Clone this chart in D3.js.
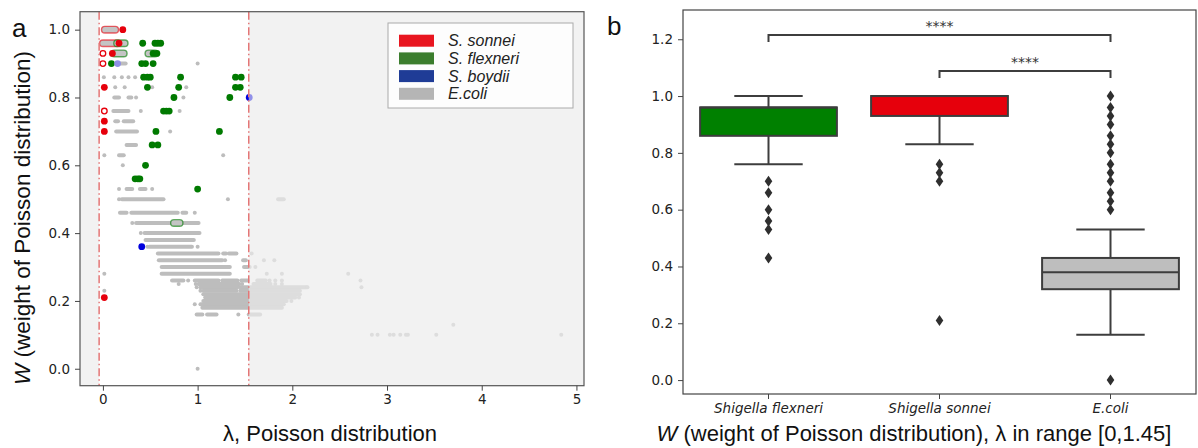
<!DOCTYPE html>
<html>
<head>
<meta charset="utf-8">
<script src="https://cdn.jsdelivr.net/npm/d3@7"></script>
<style>
  body { margin: 0; background: #fff; }
  svg { display: block; }
  .tick text { font-family: "DejaVu Sans", sans-serif; font-size: 13.5px; fill: #222; }
</style>
</head>
<body>
<svg id="chart" width="1198" height="448"></svg>
<script>
// ---------- panel a : lambda vs W scatter ----------
// E.coli dense rows: [W, lambda start, lambda end]
var ecoliRuns = [
  [0.90, 0.16, 0.24],
  [0.80, 0.12, 0.17], [0.80, 0.27, 0.30],
  [0.76, 0.11, 0.27],
  [0.73, 0.13, 0.16], [0.73, 0.22, 0.32],
  [0.70, 0.14, 0.36],
  [0.66, 0.25, 0.35],
  [0.63, 0.17, 0.22],
  [0.53, 0.25, 0.31], [0.53, 0.39, 0.45],
  [0.50, 0.20, 0.64], [0.50, 1.85, 1.91],
  [0.46, 0.18, 0.25], [0.46, 0.30, 0.79], [0.46, 0.84, 0.88],
  [0.43, 0.35, 1.01],
  [0.40, 0.44, 1.02],
  [0.38, 0.45, 0.96],
  [0.36, 0.49, 0.94],
  [0.34, 0.58, 1.22], [0.34, 1.27, 1.30], [0.34, 1.33, 1.41],
  [0.32, 0.59, 1.26], [0.32, 1.48, 1.51],
  [0.30, 0.62, 1.34], [0.30, 1.49, 1.55],
  [0.28, 0.62, 1.34],
  [0.26, 0.73, 0.85], [0.26, 0.97, 1.22], [0.26, 1.26, 1.42], [0.26, 1.46, 1.53], [0.26, 1.63, 1.72],
  [0.25, 1.01, 1.44], [0.25, 1.59, 1.77],
  [0.24, 1.03, 1.42], [0.24, 1.45, 2.15],
  [0.23, 1.06, 1.41], [0.23, 1.45, 2.08],
  [0.22, 1.06, 2.08],
  [0.21, 1.08, 2.03],
  [0.20, 1.06, 1.94],
  [0.19, 1.03, 1.91],
  [0.18, 1.05, 1.89],
  [0.16, 0.99, 1.05], [0.16, 1.10, 1.20], [0.16, 1.54, 1.66]
];
// E.coli single points: [lambda, W]
var ecoliDots = [
  [1.00, 0.90],
  [0.01, 0.86], [0.12, 0.86], [0.20, 0.86], [0.27, 0.86], [0.34, 0.86],
  [0.13, 0.83], [0.23, 0.83], [0.52, 0.83], [0.88, 0.83],
  [0.35, 0.80], [0.85, 0.80],
  [0.40, 0.76], [0.81, 0.76],
  [0.71, 0.70],
  [0.015, 0.63], [1.27, 0.63],
  [0.21, 0.60],
  [0.17, 0.53], [0.52, 0.53],
  [0.17, 0.50], [1.32, 0.50],
  [0.97, 0.46],
  [0.31, 0.43],
  [0.40, 0.40],
  [0.47, 0.36], [1.00, 0.36],
  [1.57, 0.34],
  [1.29, 0.32], [1.70, 0.32], [1.81, 0.32],
  [1.61, 0.30],
  [0.015, 0.28], [1.73, 0.28], [1.89, 0.28], [2.59, 0.28],
  [0.90, 0.26], [1.76, 0.26], [1.82, 0.26], [1.89, 0.26], [2.72, 0.26],
  [0.80, 0.25], [0.98, 0.25], [1.47, 0.25], [1.82, 0.25], [1.89, 0.25],
  [0.99, 0.24], [2.16, 0.24], [2.73, 0.24],
  [0.015, 0.23], [1.03, 0.23],
  [2.07, 0.21],
  [1.99, 0.20],
  [0.97, 0.19],
  [1.43, 0.16],
  [3.70, 0.13],
  [2.84, 0.10], [2.90, 0.10], [3.03, 0.10], [3.07, 0.10], [3.14, 0.10],
  [3.20, 0.10], [3.22, 0.10], [3.52, 0.10], [4.84, 0.10],
  [1.00, 0.00]
];
// rows where gray points carry a coloured edge: [W, lambda start, lambda end, species]
var edgedRuns = [
  [1.00, 0.02, 0.13, "sonnei"],
  [0.96, 0.00, 0.15, "sonnei"],
  [0.96, 0.15, 0.23, "flexneri"],
  [0.93, 0.12, 0.22, "flexneri"],
  [0.93, 0.48, 0.55, "flexneri"],
  [0.43, 0.75, 0.81, "flexneri"]
];
var sonneiDots = [[0.21, 1.00], [0.17, 0.96], [0.10, 0.93], [0.015, 0.83], [0.015, 0.73], [0.015, 0.70], [0.015, 0.21]];
var sonneiOpen = [[0.00, 0.93], [0.00, 0.90], [0.015, 0.76]];
var flexneriDots = [
  [0.42, 0.96], [0.55, 0.96], [0.58, 0.96], [0.61, 0.96],
  [0.53, 0.93], [0.57, 0.93],
  [0.09, 0.90], [0.41, 0.90], [0.45, 0.90], [0.53, 0.90],
  [0.43, 0.86], [0.47, 0.86], [0.50, 0.86], [0.82, 0.86], [1.40, 0.86], [1.46, 0.86],
  [0.47, 0.83], [0.80, 0.83], [1.40, 0.83], [1.45, 0.83],
  [0.75, 0.80], [1.34, 0.80],
  [0.64, 0.76], [0.67, 0.76], [0.70, 0.76],
  [0.56, 0.70], [1.23, 0.70],
  [0.52, 0.66], [0.58, 0.66],
  [0.45, 0.60],
  [0.34, 0.56], [0.37, 0.56], [0.39, 0.56],
  [1.00, 0.53]
];
var boydiiDots = [[0.155, 0.90, "light"], [1.545, 0.80, "solid"], [0.41, 0.36, "solid"]];
var spanRange = [-0.04, 1.54];
var xTicksA = [0, 1, 2, 3, 4, 5];
var yTicksA = [0.0, 0.2, 0.4, 0.6, 0.8, 1.0];
var legendNames = ["S. sonnei", "S. flexneri", "S. boydii", "E.coli"];
var legendColors = ["#e8151f", "#3b7d2d", "#1f3c96", "#b5b5b5"];

// ---------- panel b : boxplots of W ----------
var boxCats = ["Shigella flexneri", "Shigella sonnei", "E.coli"];
var boxQ1 = [0.86, 0.93, 0.32];
var boxMed = [0.96, 1.00, 0.38];
var boxQ3 = [0.96, 1.00, 0.43];
var boxLow = [0.76, 0.83, 0.16];
var boxHigh = [1.00, 1.00, 0.53];
var boxFill = ["#008000", "#e6000c", "#bebebe"];
var boxOutliers = [
  [0.70, 0.66, 0.60, 0.56, 0.53, 0.43],
  [0.76, 0.73, 0.70, 0.21],
  [1.00, 0.96, 0.93, 0.90, 0.86, 0.83, 0.80, 0.76, 0.73, 0.70, 0.66, 0.63, 0.60, 0.00]
];
var sigPairs = [
  { a: 0, b: 2, level: 1.215, tip: 1.19, label: "****" },
  { a: 1, b: 2, level: 1.088, tip: 1.064, label: "****" }
];
var yTicksB = [0.0, 0.2, 0.4, 0.6, 0.8, 1.0, 1.2];

var colors = { sonnei: "#e6000c", flexneri: "#007a00", boydii: "#0000dd", ecoli: "#bdbdbd" };

var svg = d3.select("#chart");

// ===== panel a =====
var ax = { left: 80, right: 584, top: 11.7, bottom: 385.7 };
var xA = d3.scaleLinear().domain([-0.242, 5.08]).range([ax.left, ax.right]);
var yA = d3.scaleLinear().domain([-0.05, 1.053]).range([ax.bottom, ax.top]);

var gA = svg.append("g");
gA.append("rect")
  .attr("x", ax.left).attr("y", ax.top)
  .attr("width", ax.right - ax.left).attr("height", ax.bottom - ax.top)
  .attr("fill", "#f2f2f2");
gA.append("rect")
  .attr("x", xA(spanRange[0])).attr("y", ax.top)
  .attr("width", xA(spanRange[1]) - xA(spanRange[0])).attr("height", ax.bottom - ax.top)
  .attr("fill", "#fff");

gA.selectAll(".erun").data(ecoliRuns).enter().append("line")
  .attr("x1", function (d) { return xA(d[1]); })
  .attr("x2", function (d) { return xA(d[2]); })
  .attr("y1", function (d) { return yA(d[0]); })
  .attr("y2", function (d) { return yA(d[0]); })
  .attr("stroke", colors.ecoli).attr("stroke-width", 4).attr("stroke-linecap", "round");

gA.selectAll(".edot").data(ecoliDots).enter().append("circle")
  .attr("cx", function (d) { return xA(d[0]); })
  .attr("cy", function (d) { return yA(d[1]); })
  .attr("r", 2).attr("fill", colors.ecoli);

gA.selectAll(".edged").data(edgedRuns).enter().append("rect")
  .attr("x", function (d) { return xA(d[1]) - 3.3; })
  .attr("y", function (d) { return yA(d[0]) - 3.3; })
  .attr("width", function (d) { return xA(d[2]) - xA(d[1]) + 6.6; })
  .attr("height", 6.6).attr("rx", 3.3)
  .attr("fill", "#c4c4c4")
  .attr("stroke", function (d) { return colors[d[3]]; })
  .attr("stroke-opacity", 0.6).attr("stroke-width", 1.4);

gA.selectAll(".fdot").data(flexneriDots).enter().append("circle")
  .attr("cx", function (d) { return xA(d[0]); })
  .attr("cy", function (d) { return yA(d[1]); })
  .attr("r", 3.4).attr("fill", colors.flexneri);

gA.selectAll(".sopen").data(sonneiOpen).enter().append("circle")
  .attr("cx", function (d) { return xA(d[0]); })
  .attr("cy", function (d) { return yA(d[1]); })
  .attr("r", 2.8).attr("fill", "#fff").attr("stroke", colors.sonnei).attr("stroke-width", 1.3);

gA.selectAll(".sdot").data(sonneiDots).enter().append("circle")
  .attr("cx", function (d) { return xA(d[0]); })
  .attr("cy", function (d) { return yA(d[1]); })
  .attr("r", 3.4).attr("fill", colors.sonnei);

gA.selectAll(".bdot").data(boydiiDots).enter().append("circle")
  .attr("cx", function (d) { return xA(d[0]); })
  .attr("cy", function (d) { return yA(d[1]); })
  .attr("r", 3.4)
  .attr("fill", function (d) { return d[2] == "light" ? "#8f8fe6" : colors.boydii; });

// pale veil outside the lambda window
gA.append("rect")
  .attr("x", xA(spanRange[1])).attr("y", ax.top)
  .attr("width", ax.right - xA(spanRange[1])).attr("height", ax.bottom - ax.top)
  .attr("fill", "#f2f2f2").attr("fill-opacity", 0.6);

gA.selectAll(".vline").data(spanRange).enter().append("line")
  .attr("x1", function (d) { return xA(d); }).attr("x2", function (d) { return xA(d); })
  .attr("y1", ax.top).attr("y2", ax.bottom)
  .attr("stroke", "#e47676").attr("stroke-width", 1.5)
  .attr("stroke-dasharray", "8,3,1.5,3");

gA.append("rect")
  .attr("x", ax.left).attr("y", ax.top)
  .attr("width", ax.right - ax.left).attr("height", ax.bottom - ax.top)
  .attr("fill", "none").attr("stroke", "#555").attr("stroke-width", 1.2);

gA.append("g").attr("transform", "translate(0," + ax.bottom + ")")
  .call(d3.axisBottom(xA).tickValues(xTicksA).tickFormat(d3.format("d")).tickSizeOuter(0).tickSize(5).tickPadding(4))
  .call(function (g) { g.select(".domain").remove(); g.selectAll("line").attr("stroke", "#444"); });

gA.append("g").attr("transform", "translate(" + ax.left + ",0)")
  .call(d3.axisLeft(yA).tickValues(yTicksA).tickFormat(d3.format(".1f")).tickSizeOuter(0).tickSize(5).tickPadding(5))
  .call(function (g) { g.select(".domain").remove(); g.selectAll("line").attr("stroke", "#444"); });

// legend
var lg = gA.append("g").attr("transform", "translate(388,23)");
lg.append("rect").attr("width", 185).attr("height", 85)
  .attr("fill", "#fff").attr("fill-opacity", 0.8).attr("stroke", "#aaa").attr("stroke-width", 1);
var li = lg.selectAll(".li").data(legendNames).enter().append("g")
  .attr("transform", function (d, i) { return "translate(11," + (17.7 + i * 17.7) + ")"; });
li.append("rect").attr("x", 0).attr("y", -6).attr("width", 35).attr("height", 12)
  .attr("fill", function (d, i) { return legendColors[i]; });
li.append("text").attr("x", 49).attr("y", 5.5)
  .attr("font-family", "Liberation Sans, Arial, sans-serif").attr("font-style", "italic")
  .attr("font-size", 16).attr("fill", "#222").text(function (d) { return d; });

gA.append("text").attr("x", (ax.left + ax.right) / 2 - 2).attr("y", 441)
  .attr("text-anchor", "middle").attr("font-family", "Liberation Sans, Arial, sans-serif")
  .attr("font-size", 22).attr("fill", "#111").text("λ, Poisson distribution");

var yl = gA.append("text")
  .attr("transform", "translate(30,218) rotate(-90)")
  .attr("text-anchor", "middle").attr("font-family", "Liberation Sans, Arial, sans-serif")
  .attr("font-size", 22.5).attr("fill", "#111");
yl.append("tspan").attr("font-style", "italic").text("W");
yl.append("tspan").text(" (weight of Poisson distribution)");

svg.append("text").attr("x", 12).attr("y", 37).attr("font-family", "Liberation Sans, Arial, sans-serif")
  .attr("font-size", 26).attr("fill", "#111").text("a");

// ===== panel b =====
var bx = { left: 683, right: 1196, top: 10, bottom: 394 };
var xB = d3.scaleBand().domain(boxCats).range([bx.left, bx.right]);
var yB = d3.scaleLinear().domain([-0.049, 1.303]).range([bx.bottom, bx.top]);
var bw = xB.bandwidth() * 0.8;
var edge = "#3d3d3d";

var gB = svg.append("g");
var boxes = gB.selectAll(".box").data(boxCats).enter().append("g")
  .attr("transform", function (d) { return "translate(" + (xB(d) + xB.bandwidth() / 2) + ",0)"; });

boxes.append("line")
  .attr("y1", function (d, i) { return yB(boxHigh[i]); })
  .attr("y2", function (d, i) { return yB(boxQ3[i]); })
  .attr("stroke", edge).attr("stroke-width", 2);
boxes.append("line")
  .attr("y1", function (d, i) { return yB(boxQ1[i]); })
  .attr("y2", function (d, i) { return yB(boxLow[i]); })
  .attr("stroke", edge).attr("stroke-width", 2);
boxes.append("line").attr("x1", -bw / 4).attr("x2", bw / 4)
  .attr("y1", function (d, i) { return yB(boxHigh[i]); })
  .attr("y2", function (d, i) { return yB(boxHigh[i]); })
  .attr("stroke", edge).attr("stroke-width", 2);
boxes.append("line").attr("x1", -bw / 4).attr("x2", bw / 4)
  .attr("y1", function (d, i) { return yB(boxLow[i]); })
  .attr("y2", function (d, i) { return yB(boxLow[i]); })
  .attr("stroke", edge).attr("stroke-width", 2);
boxes.append("rect").attr("x", -bw / 2).attr("width", bw)
  .attr("y", function (d, i) { return yB(boxQ3[i]); })
  .attr("height", function (d, i) { return yB(boxQ1[i]) - yB(boxQ3[i]); })
  .attr("fill", function (d, i) { return boxFill[i]; })
  .attr("stroke", edge).attr("stroke-width", 2);
boxes.append("line").attr("x1", -bw / 2).attr("x2", bw / 2)
  .attr("y1", function (d, i) { return yB(boxMed[i]); })
  .attr("y2", function (d, i) { return yB(boxMed[i]); })
  .attr("stroke", edge).attr("stroke-width", 2);
boxes.each(function (d, i) {
  d3.select(this).selectAll(".fl").data(boxOutliers[i]).enter().append("path")
    .attr("d", function (v) { var y = yB(v); return "M0," + (y - 5.5) + "L3.8," + y + "L0," + (y + 5.5) + "L-3.8," + y + "Z"; })
    .attr("fill", "#2f2f2f");
});

gB.selectAll(".sig").data(sigPairs).enter().append("path")
  .attr("d", function (d) {
    var xa = xB(boxCats[d.a]) + xB.bandwidth() / 2, xb = xB(boxCats[d.b]) + xB.bandwidth() / 2;
    return "M" + xa + "," + yB(d.tip) + "V" + yB(d.level) + "H" + xb + "V" + yB(d.tip);
  })
  .attr("fill", "none").attr("stroke", edge).attr("stroke-width", 2);
gB.selectAll(".sigt").data(sigPairs).enter().append("text")
  .attr("x", function (d) { return (xB(boxCats[d.a]) + xB(boxCats[d.b])) / 2 + xB.bandwidth() / 2; })
  .attr("y", function (d) { return yB(d.level) - 4; })
  .attr("text-anchor", "middle").attr("font-family", "DejaVu Sans, sans-serif")
  .attr("font-size", 14).attr("fill", "#333").text(function (d) { return d.label; });

gB.append("rect")
  .attr("x", bx.left).attr("y", bx.top)
  .attr("width", bx.right - bx.left).attr("height", bx.bottom - bx.top)
  .attr("fill", "none").attr("stroke", "#444").attr("stroke-width", 1.2);

gB.append("g").attr("transform", "translate(0," + bx.bottom + ")")
  .call(d3.axisBottom(xB).tickSizeOuter(0).tickSize(5).tickPadding(4))
  .call(function (g) {
    g.select(".domain").remove();
    g.selectAll("line").attr("stroke", "#444");
    g.selectAll("text").attr("font-style", "italic").attr("font-size", 14);
  });
gB.append("g").attr("transform", "translate(" + bx.left + ",0)")
  .call(d3.axisLeft(yB).tickValues(yTicksB).tickFormat(d3.format(".1f")).tickSizeOuter(0).tickSize(5).tickPadding(5))
  .call(function (g) { g.select(".domain").remove(); g.selectAll("line").attr("stroke", "#444"); });

var xlb = gB.append("text").attr("x", 914).attr("y", 441)
  .attr("text-anchor", "middle").attr("font-family", "Liberation Sans, Arial, sans-serif")
  .attr("font-size", 22).attr("fill", "#111");
xlb.append("tspan").attr("font-style", "italic").text("W");
xlb.append("tspan").text(" (weight of Poisson distribution), λ in range [0,1.45]");

svg.append("text").attr("x", 607).attr("y", 35).attr("font-family", "Liberation Sans, Arial, sans-serif")
  .attr("font-size", 26).attr("fill", "#111").text("b");
</script>
</body>
</html>
